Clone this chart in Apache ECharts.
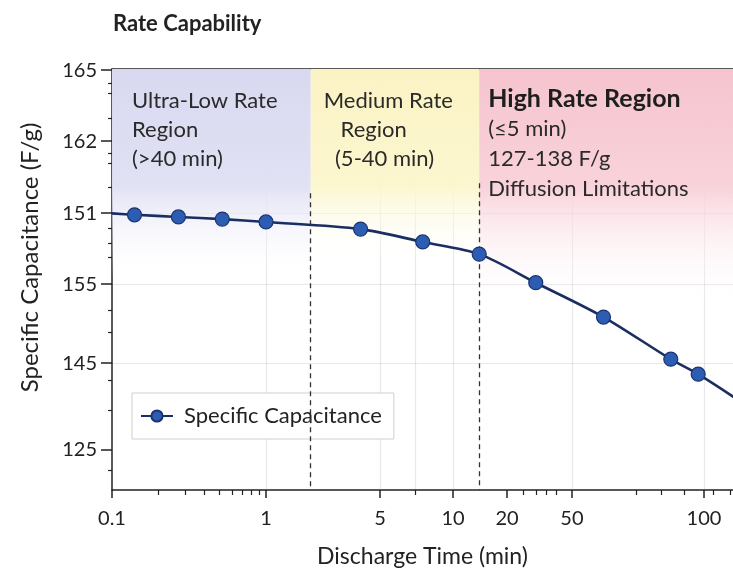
<!DOCTYPE html>
<html>
<head>
<meta charset="utf-8">
<script src="https://cdn.jsdelivr.net/npm/echarts@6/dist/echarts.min.js"></script>
<style>
html,body{margin:0;padding:0;background:#fff;}
#c{width:733px;height:579px;}
</style>
</head>
<body>
<div id="c"></div>
<script>
// ---- data ----
const xTickMinutes = [0.1, 1, 5, 10, 20, 50, 100];
const xTickLabels = ['0.1', '1', '5', '10', '20', '50', '100'];
const xMinorMinutes = [0.2, 0.3, 0.4, 0.5, 0.6, 0.7, 0.8, 0.9, 7, 25, 30, 35, 40, 70, 80, 90, 105, 115];
const xGridMinutes = [1, 5, 7, 10, 50, 100];
const yTickLabels = ['165', '162', '151', '155', '145', '125'];
const yTickLevels = [58.75, 48.81, 38.74, 28.81, 17.76, 5.59];
const yMinorLevels = [56.9, 55.5, 52.0, 47.1, 45.7, 42.4, 36.6, 34.5, 32.6, 25.2, 22.1, 15.4, 11.2, 2.8];
const yGridLevels = [54.97, 48.81, 43.08, 38.74, 28.81, 17.76];
const dischargeTime = [0.1, 0.14, 0.27, 0.52, 1.0, 3.8, 7.5, 14, 30, 59, 84, 97, 134];
const capLevel = [38.7, 38.5, 38.2, 37.9, 37.5, 36.5, 34.7, 33.0, 29.0, 24.2, 18.3, 16.2, 10.6];
const measured = [false, true, true, true, true, true, true, true, true, true, true, true, false];
const regionBounds = [0.1, 1.88, 14, 200];
const dividerTimes = [1.88, 14];
const dividerTops = [41.5, 42.9];

// ---- axis warp (layout of the non-uniform time axis) ----
const warpMinutes = [0.1, 1, 5, 10, 20, 50, 100, 200];
const warpPos = [0, 24.80, 43.16, 54.91, 63.61, 74.07, 95.33, 116.59];
function tx(m) {
  let i = 0;
  while (i < warpMinutes.length - 2 && m > warpMinutes[i + 1]) i++;
  const a = warpMinutes[i], b = warpMinutes[i + 1];
  return warpPos[i] + (warpPos[i + 1] - warpPos[i]) * Math.log(m / a) / Math.log(b / a);
}
function nearestLabel(v, positions, labels) {
  let best = 0, d = Infinity;
  positions.forEach((p, i) => { const dd = Math.abs(p - v); if (dd < d) { d = dd; best = i; } });
  return d < 0.5 ? labels[best] : '';
}

const FONT = 'Lato';
const xTickPos = xTickMinutes.map(tx);
const X_MAX = 100, Y_MAX = 58.9;

const seriesData = dischargeTime.map((t, i) => {
  const d = { value: [tx(t), capLevel[i]] };
  if (!measured[i]) d.symbol = 'none';
  return d;
});

function grad(c0, c1, stopEnd) {
  return new echarts.graphic.LinearGradient(0, 0, 0, 1, [
    { offset: 0, color: c0 },
    { offset: 0.28, color: c1 },
    { offset: stopEnd, color: 'rgba(255,255,255,0)' },
    { offset: 1, color: 'rgba(255,255,255,0)' }
  ]);
}

const chart = echarts.init(document.getElementById('c'), null, { renderer: 'canvas' });
const baseX = { type: 'value', min: 0, max: X_MAX, gridIndex: 0, position: 'bottom' };
const baseY = { type: 'value', min: 0, max: Y_MAX, gridIndex: 0, position: 'left' };
const regionText = { fontFamily: FONT, fontSize: 22, lineHeight: 29, color: '#2a2a2a' };

chart.setOption({
  animation: false,
  backgroundColor: '#ffffff',
  title: {
    text: 'Rate Capability', left: 108, top: 8,
    textStyle: { fontFamily: FONT, fontSize: 22, fontWeight: 'bold', color: '#222' }
  },
  grid: { left: 112, top: 69, right: 0, bottom: 89, containLabel: false, outerBoundsMode: 'none' },
  legend: {
    left: 132, top: 393,
    data: ['Specific Capacitance'],
    backgroundColor: '#fff', borderColor: '#cfcfcf', borderWidth: 1, borderRadius: 0,
    padding: [12, 12, 12, 8], itemWidth: 32, itemHeight: 14, itemGap: 10,
    textStyle: { fontFamily: FONT, fontSize: 22, color: '#222', padding: [0, 0, 0, 6] }
  },
  xAxis: [
    Object.assign({}, baseX, {
      axisLine: { show: true, lineStyle: { color: '#222', width: 1.5 } },
      axisTick: { show: true, customValues: xTickPos, length: 8, lineStyle: { color: '#222', width: 1.5 } },
      axisLabel: {
        show: true, customValues: xTickPos, margin: 19,
        fontFamily: FONT, fontSize: 20, color: '#222',
        formatter: v => nearestLabel(v, xTickPos, xTickLabels)
      },
      splitLine: { show: false },
      name: 'Discharge Time (min)', nameLocation: 'middle', nameGap: 55,
      nameTextStyle: { fontFamily: FONT, fontSize: 23, color: '#222' }
    }),
    Object.assign({}, baseX, {
      axisLine: { show: false },
      axisTick: { show: true, customValues: xMinorMinutes.map(tx), length: 5, lineStyle: { color: '#222', width: 1.2 } },
      axisLabel: { show: false },
      splitLine: { show: false }
    }),
    Object.assign({}, baseX, {
      axisLine: { show: false },
      axisTick: { show: false, customValues: xGridMinutes.map(tx) },
      axisLabel: { show: false },
      splitLine: { show: true, lineStyle: { color: 'rgba(0,0,0,0.09)', width: 1.2 } }
    }),
    Object.assign({}, baseX, {
      position: 'top',
      axisLine: { show: true, lineStyle: { color: '#222', width: 1.5 } },
      axisTick: { show: false }, axisLabel: { show: false }, splitLine: { show: false }
    })
  ],
  yAxis: [
    Object.assign({}, baseY, {
      axisLine: { show: true, lineStyle: { color: '#222', width: 1.5 } },
      axisTick: { show: true, customValues: yTickLevels, length: 11, lineStyle: { color: '#222', width: 1.5 } },
      axisLabel: {
        show: true, customValues: yTickLevels, margin: 15,
        fontFamily: FONT, fontSize: 20, color: '#222',
        formatter: v => nearestLabel(v, yTickLevels, yTickLabels)
      },
      splitLine: { show: false },
      name: 'Specific Capacitance (F/g)', nameLocation: 'middle', nameGap: 70,
      nameTextStyle: { fontFamily: FONT, fontSize: 24, color: '#222', padding: [0, 0, 0, 44] }
    }),
    Object.assign({}, baseY, {
      axisLine: { show: false },
      axisTick: { show: true, customValues: yMinorLevels, length: 4, lineStyle: { color: '#222', width: 1.2 } },
      axisLabel: { show: false },
      splitLine: { show: false }
    }),
    Object.assign({}, baseY, {
      axisLine: { show: false },
      axisTick: { show: false, customValues: yGridLevels },
      axisLabel: { show: false },
      splitLine: { show: true, lineStyle: { color: 'rgba(0,0,0,0.09)', width: 1.2 } }
    })
  ],
  series: [
    {
      name: 'regions', type: 'line', data: [], z: -1, silent: true,
      markArea: {
        silent: true,
        data: [
          [
            { xAxis: tx(regionBounds[0]), yAxis: Y_MAX,
              itemStyle: { color: grad('rgba(216,216,240,1)', 'rgba(224,224,244,0.95)', 0.5) },
              label: Object.assign({ show: true, position: [20, 17], align: 'left', verticalAlign: 'top',
                formatter: 'Ultra-Low Rate\nRegion\n(>40 min)' }, regionText) },
            { xAxis: tx(regionBounds[1]), yAxis: 0 }
          ],
          [
            { xAxis: tx(regionBounds[1]), yAxis: Y_MAX,
              itemStyle: { color: grad('rgba(251,243,196,1)', 'rgba(252,246,205,0.95)', 0.46) },
              label: Object.assign({ show: true, position: [13, 17], align: 'left', verticalAlign: 'top',
                formatter: 'Medium Rate\n   Region\n  (5-40 min)' }, regionText) },
            { xAxis: tx(regionBounds[2]), yAxis: 0 }
          ],
          [
            { xAxis: tx(regionBounds[2]), yAxis: Y_MAX,
              itemStyle: { color: grad('rgba(246,196,206,1)', 'rgba(248,208,216,0.95)', 0.56) },
              label: { show: true, position: [9, 15], align: 'left', verticalAlign: 'top',
                formatter: '{h|High Rate Region}\n{n|(≤5 min)}\n{n|127-138 F/g}\n{n|Diffusion Limitations}',
                rich: {
                  h: { fontFamily: FONT, fontSize: 25, fontWeight: 'bold', lineHeight: 30, color: '#1e1e1e' },
                  n: { fontFamily: FONT, fontSize: 22, lineHeight: 30, color: '#2a2a2a' }
                } } },
            { xAxis: tx(regionBounds[3]), yAxis: 0 }
          ]
        ]
      }
    },
    {
      name: 'Specific Capacitance', type: 'line', xAxisIndex: 0, yAxisIndex: 0,
      data: seriesData, smooth: 0.3, clip: true, z: 5,
      symbol: 'circle', symbolSize: 14,
      lineStyle: { color: '#1b2e62', width: 2.6 },
      itemStyle: { color: '#2c5db3', borderColor: '#1a3470', borderWidth: 1.2 },
      markLine: {
        silent: true, symbol: 'none', label: { show: false },
        lineStyle: { color: '#333', type: [5, 4], width: 1.3 },
        data: dividerTimes.map((t, i) => [
          { coord: [tx(t), dividerTops[i]] },
          { coord: [tx(t), 0] }
        ])
      }
    }
  ]
});
</script>
</body>
</html>
